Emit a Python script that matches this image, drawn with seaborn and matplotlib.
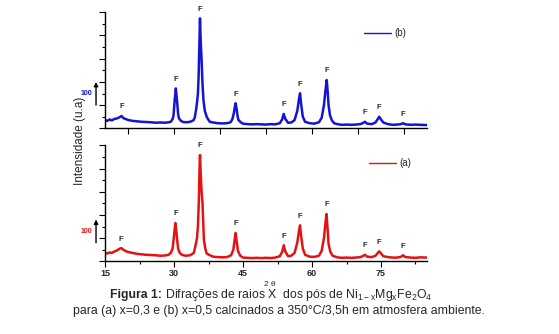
import numpy as np
import pandas as pd
import matplotlib
matplotlib.use("Agg")
import matplotlib.pyplot as plt
from matplotlib.ticker import MultipleLocator, FixedLocator, NullFormatter
import seaborn as sns

# 2-theta / intensity readings, sample (b) x=0.5
theta_b = [15.0, 15.5, 16.0, 16.5, 17.0, 17.5, 18.0, 18.6, 19.0, 19.5, 20.0, 21.0, 22.0,
           23.0, 24.0, 25.0, 26.0, 27.0, 28.0, 28.8, 29.3, 29.7, 29.9, 30.15, 30.4,
           30.55, 30.7, 30.9, 31.1, 31.5, 32.0, 32.8, 33.5, 34.2, 34.5, 34.8, 35.0,
           35.2, 35.35, 35.5, 35.65, 35.8, 36.0, 36.2, 36.4, 36.7, 37.1, 37.5, 37.8,
           38.5, 39.5, 40.5, 41.5, 42.3, 42.7, 43.0, 43.2, 43.4, 43.6, 43.8, 44.0,
           44.5, 45.0, 46.0, 47.0, 48.0, 49.0, 50.0, 51.0, 52.0, 53.0, 53.5, 53.85,
           54.2, 54.8, 55.5, 56.2, 56.8, 57.2, 57.4, 57.6, 58.0, 58.5, 59.5, 60.5,
           61.5, 62.1, 62.6, 62.9, 63.2, 63.4, 63.6, 63.9, 64.3, 64.8, 65.5, 66.5,
           67.5, 68.5, 69.5, 70.5, 71.0, 71.5, 72.0, 73.0, 73.8, 74.3, 74.6, 75.0,
           75.5, 76.5, 77.5, 78.5, 79.3, 79.8, 80.3, 81.5, 82.5, 83.5, 85.0]
counts_b = [36, 32, 38, 34, 40, 42, 46, 53, 44, 40, 36, 32, 30,
            28, 27, 26, 24, 25, 24, 26, 28, 40, 55, 122, 172,
            140, 108, 60, 42, 32, 27, 26, 28, 34, 45, 80, 110,
            150, 222, 350, 474, 380, 294, 190, 122, 75, 50, 36, 28,
            25, 22, 21, 22, 26, 40, 65, 90, 108, 85, 55, 36,
            26, 20, 18, 17, 18, 17, 16, 18, 17, 22, 38, 62,
            40, 24, 25, 35, 75, 130, 151, 110, 50, 28, 22, 20,
            26, 45, 100, 160, 208, 160, 100, 57, 35, 22, 18, 15,
            16, 15, 16, 18, 22, 28, 20, 18, 25, 40, 50, 38,
            25, 18, 15, 16, 18, 22, 17, 15, 16, 15, 14]

# 2-theta / intensity readings, sample (a) x=0.3
theta_a = [15.0, 15.5, 16.0, 16.5, 17.0, 17.5, 18.0, 18.5, 19.0, 19.5, 20.0, 21.0, 22.0,
           23.0, 24.0, 25.0, 26.0, 27.0, 28.0, 28.8, 29.3, 29.7, 30.0, 30.3, 30.5,
           30.7, 30.9, 31.2, 31.7, 32.5, 33.5, 34.3, 34.7, 35.0, 35.2, 35.4, 35.55,
           35.65, 35.8, 36.0, 36.2, 36.5, 36.8, 37.1, 37.6, 38.5, 39.5, 40.5, 41.5,
           42.4, 42.9, 43.2, 43.4, 43.6, 43.9, 44.4, 45.0, 46.0, 47.0, 48.0, 49.0,
           50.0, 51.0, 52.0, 53.0, 53.5, 53.85, 54.2, 54.8, 55.5, 56.2, 56.8, 57.2,
           57.4, 57.6, 58.0, 58.5, 59.5, 60.5, 61.5, 62.1, 62.6, 62.9, 63.15, 63.35,
           63.6, 64.0, 64.5, 65.5, 66.5, 67.5, 68.5, 69.5, 70.5, 71.0, 71.5, 72.0,
           73.0, 73.8, 74.3, 74.6, 75.0, 75.5, 76.5, 77.5, 78.5, 79.3, 79.8, 80.3,
           81.5, 82.5, 83.5, 85.0]
counts_a = [36, 34, 38, 36, 42, 46, 52, 57, 50, 44, 40, 36, 32,
            30, 28, 27, 26, 24, 25, 28, 36, 55, 110, 165, 130,
            90, 55, 38, 28, 24, 26, 36, 70, 100, 150, 260, 400,
            458, 380, 300, 250, 92, 55, 34, 28, 20, 18, 17, 18,
            26, 50, 95, 122, 90, 45, 24, 16, 15, 14, 15, 14,
            15, 14, 16, 22, 40, 69, 42, 22, 24, 36, 80, 135,
            155, 115, 55, 28, 20, 19, 24, 45, 100, 160, 204, 150,
            75, 40, 24, 17, 15, 16, 15, 16, 18, 22, 28, 20,
            18, 24, 36, 43, 34, 22, 18, 16, 16, 19, 26, 18,
            16, 15, 17, 16]

# Indexed ferrite (F) reflections
peaks_b = [18.6, 30.4, 35.65, 43.4, 53.85, 57.4, 63.2, 71.5, 74.6, 79.8]
peaks_a = [18.5, 30.3, 35.65, 43.4, 53.85, 57.4, 63.15, 71.5, 74.6, 79.8]

sns.set_style("white")
plt.rcParams["font.family"] = ["Liberation Sans", "DejaVu Sans"]
plt.rcParams["mathtext.fontset"] = "custom"
plt.rcParams["mathtext.rm"] = "Liberation Sans"
plt.rcParams["mathtext.it"] = "Liberation Sans:italic"
plt.rcParams["mathtext.bf"] = "Liberation Sans:bold"

W, H = 559, 334
fig = plt.figure(figsize=(W / 100, H / 100), dpi=100)
fig.patch.set_facecolor("white")


def box(left, top, right, bottom):
    return [left / W, 1 - bottom / H, (right - left) / W, (bottom - top) / H]


ax_b = fig.add_axes(box(105, 12.3, 427, 128.3))
ax_a = fig.add_axes(box(105, 145.3, 427, 261.3))

BLUE = "#1414d2"
RED = "#e41212"

df_b = pd.DataFrame({"theta": theta_b, "I": counts_b})
df_a = pd.DataFrame({"theta": theta_a, "I": counts_a})

sns.lineplot(data=df_b, x="theta", y="I", ax=ax_b, color=BLUE, lw=1.8,
             label="(b)", sort=False)
sns.lineplot(data=df_a, x="theta", y="I", ax=ax_a, color=RED, lw=1.8,
             label="(a)", sort=False)


def label_peaks(ax, df, peaks):
    for p in peaks:
        near = df[(df.theta - p).abs() <= 0.35]
        ax.annotate("F", xy=(p, near.I.max()), xytext=(0, 4),
                    textcoords="offset points", ha="center", va="bottom",
                    fontsize=5.5, fontweight="bold", annotation_clip=False)


label_peaks(ax_b, df_b, peaks_b)
label_peaks(ax_a, df_a, peaks_a)

for ax in (ax_b, ax_a):
    ax.set_xlim(15, 85)
    ax.set_ylim(0, 500)
    ax.set_xlabel("")
    ax.set_ylabel("")
    for s in ("top", "right"):
        ax.spines[s].set_visible(False)
    for s in ("left", "bottom"):
        ax.spines[s].set_color("black")
        ax.spines[s].set_linewidth(1.0)
    ax.yaxis.set_major_locator(MultipleLocator(100))
    ax.yaxis.set_minor_locator(MultipleLocator(50))
    ax.yaxis.set_major_formatter(NullFormatter())
    ax.tick_params(axis="y", which="major", direction="out", length=4, width=0.8,
                   left=True, color="black")
    ax.tick_params(axis="y", which="minor", direction="out", length=2.5, width=0.8,
                   left=True, color="black")
    ax.set_facecolor("white")

ax_b.xaxis.set_major_locator(FixedLocator([20, 30, 40, 50, 60, 70, 80]))
ax_b.xaxis.set_major_formatter(NullFormatter())
ax_b.tick_params(axis="x", which="major", direction="out", length=4, width=0.8,
                 bottom=True, color="black")

ax_a.xaxis.set_major_locator(FixedLocator([15, 30, 45, 60, 75]))
ax_a.xaxis.set_minor_locator(FixedLocator([22.5, 37.5, 52.5, 67.5, 82.5]))
ax_a.tick_params(axis="x", which="major", direction="out", length=4, width=0.8,
                 bottom=True, color="black", labelsize=6.5, pad=1.5)
ax_a.tick_params(axis="x", which="minor", direction="out", length=2.5, width=0.8,
                 bottom=True, color="black")
for t in ax_a.get_xticklabels():
    t.set_fontweight("bold")

# Legends
for ax, anchor in ((ax_b, (0.804, 0.822)), (ax_a, (0.82, 0.847))):
    leg = ax.legend(loc="center left", bbox_to_anchor=anchor, frameon=False,
                    fontsize=7, handlelength=2.8, handletextpad=0.3,
                    borderpad=0, borderaxespad=0)
    for line in leg.get_lines():
        line.set_linewidth(1.0)

# 100-count scale arrows
for ax, y0, col in ((ax_b, 100, BLUE), (ax_a, 80, RED)):
    ax.annotate("", xy=(13.05, y0 + 100), xytext=(13.05, y0),
                arrowprops=dict(arrowstyle="-|>", color="black", lw=1.0,
                                mutation_scale=6, shrinkA=0, shrinkB=0),
                annotation_clip=False)
    ax.text(12.3, y0 + 50, "100", color=col, fontsize=5, fontweight="bold",
            ha="right", va="center", clip_on=False)

fig.text(80 / W, 1 - 141 / H, "Intensidade (u.a)", rotation=90,
         ha="center", va="center", fontsize=8.5)
fig.text(270 / W, 1 - 284 / H, "2 θ", ha="center", va="center", fontsize=6)

# Caption: bold prefix followed by the regular text, centred as one line
renderer = fig.canvas.get_renderer()
cap_head = fig.text(0, 1 - 295 / H, "Figura 1:", fontweight="bold",
                    ha="left", va="center", fontsize=8.8)
cap_body = fig.text(0, 1 - 295 / H,
                    " Difrações de raios X  dos pós de "
                    r"Ni$_{\mathrm{1-x}}$Mg$_{\mathrm{x}}$Fe$_{\mathrm{2}}$O$_{\mathrm{4}}$",
                    ha="left", va="center", fontsize=8.8)
w_head = cap_head.get_window_extent(renderer).width
w_body = cap_body.get_window_extent(renderer).width
x0 = 271 - (w_head + w_body) / 2
cap_head.set_x(x0 / W)
cap_body.set_x((x0 + w_head) / W)

fig.text(279 / W, 1 - 311 / H,
         "para (a) x=0,3 e (b) x=0,5 calcinados a 350°C/3,5h em atmosfera ambiente.",
         ha="center", va="center", fontsize=8.8)

fig.savefig("out.png", dpi=100, facecolor="white")
